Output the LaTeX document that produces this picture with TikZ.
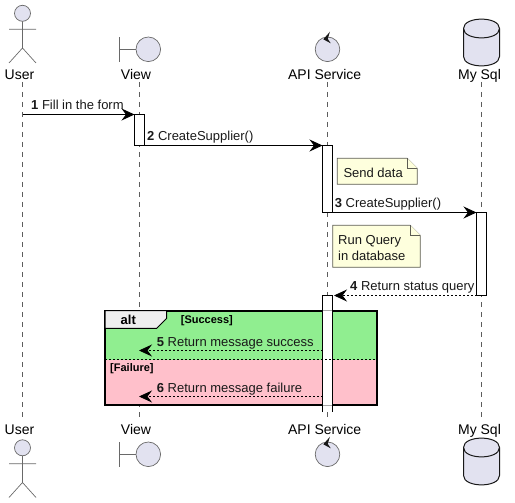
\documentclass[tikz,border=0pt]{standalone}
\usepackage{fontspec}
\setmainfont{Liberation Sans}
\usetikzlibrary{arrows.meta}
\definecolor{iconfill}{RGB}{226,226,240}
\definecolor{inkdark}{RGB}{24,24,24}
\definecolor{notefill}{RGB}{254,255,221}
\definecolor{okgreen}{RGB}{144,238,144}
\definecolor{failpink}{RGB}{255,192,203}
\definecolor{tabgray}{RGB}{238,238,238}
\tikzset{
  lifeline/.style={inkdark!70,line width=0.6pt,dash pattern=on 5pt off 5pt},
  icon/.style={draw=inkdark!65,line width=0.7pt,fill=iconfill},
  actorline/.style={inkdark!65,line width=0.7pt},
  bar/.style={draw=black,fill=white,line width=1pt,minimum width=10pt,inner sep=0pt,outer sep=0pt},
  title/.style={font=\fontsize{14}{16}\selectfont,inner sep=0pt,anchor=base},
  msglabel/.style={font=\fontsize{13}{15}\selectfont,inner sep=0pt,anchor=base west,text=black!90},
  guard/.style={font=\fontsize{11}{13}\selectfont\bfseries,inner sep=0pt,anchor=base west},
  msg/.style={black,line width=1pt,-{Stealth[length=13pt,width=12pt,inset=4.5pt]}},
  reply/.style={msg,dash pattern=on 2pt off 2pt,line width=0.8pt},
  note/.style={draw=inkdark!70!notefill,fill=notefill,line width=0.7pt}
}
\begin{document}
\begin{tikzpicture}[x=1pt,y=-1pt]
\useasboundingbox (0,0) rectangle (515,503);
% lifelines
\foreach \name/\x in {user/22.5,view/139,api/327.5,sql/481.5}{
  \coordinate (\name top) at (\x,82);
  \coordinate (\name bot) at (\x,417);
  \draw [lifeline] (\name top)--(\name bot);
}
% alt frame
\fill [okgreen] (105,310.7) rectangle (376.7,359.5);
\fill [failpink] (105,359.5) rectangle (376.7,405);
\draw [black,line width=1.6pt] (105,310.7) rectangle (376.7,405);
% activations
\node [bar,minimum height=31pt,anchor=north west] (viewbar) at (134.5,114.5) {};
\node [bar,minimum height=67pt,anchor=north west] (apibarone) at (322.5,145.5) {};
\node [bar,minimum height=83pt,anchor=north west] (sqlbar) at (476.5,212.5) {};
\fill [white] (322.5,295.5) rectangle (332.5,412);
\coordinate (apibartwo) at (322.5,295.5);
\coordinate (apibarend) at (332.5,295.5);
\draw [black,line width=1pt] (322.5,412)--(apibartwo)--(apibarend)--(332.5,412);
\draw [gray!70,line width=0.8pt] (323,310.7)--(332,310.7) (323,405)--(332,405);
\draw [black,line width=0.7pt,dash pattern=on 2pt off 2pt] (105,359.5)--(376.7,359.5);
\draw [black,line width=1pt,fill=tabgray] (105,310.7)--(166.7,310.7)--(166.7,318.3)--(156.7,328.3)--(105,328.3)--cycle;
\node [font=\fontsize{13}{15}\selectfont\bfseries,inner sep=0pt,anchor=base] (altlabel) at (128.3,324.3) {alt};
\node [guard] (success) at (180.7,323.3) {[Success]};
\node [guard] (failure) at (110,371) {[Failure]};
% actor, top and bottom
\foreach \dy in {0,434.5}{
  \begin{scope}[yshift=-\dy pt]
  \draw [icon] (22.5,13.3) circle (8);
  \draw [actorline] (22.5,21.3)--(22.5,48) (9,29.3)--(36,29.3) (9,63)--(22.5,48)--(36,63);
  \end{scope}
}
% boundary and control
\foreach \dy in {0,405}{
  \begin{scope}[yshift=-\dy pt]
  \draw [actorline] (119.3,37.3)--(119.3,61.7) (119.3,49.3)--(136,49.3);
  \draw [icon] (148.3,49.3) circle (12.3);
  \draw [icon] (327.5,49.3) circle (12.3);
  \fill [inkdark] (330,31.7)--(323.3,39.3)--(330.7,43.3)--(327.7,38.7)--cycle;
  \end{scope}
}
% database
\foreach \dy in {0,419}{
  \begin{scope}[yshift=-\dy pt]
  \draw [inkdark,line width=1pt,fill=iconfill] (463.5,28.5)
    .. controls (463.5,16) and (499.5,16) .. (499.5,28.5)--(499.5,56.5)
    .. controls (499.5,69) and (463.5,69) .. (463.5,56.5)--cycle;
  \draw [inkdark,line width=1pt] (463.5,28.5) .. controls (463.5,41) and (499.5,41) .. (499.5,28.5);
  \end{scope}
}
% names
\foreach \name/\lab/\x in {user/User/19.5,view/View/136,api/API Service/324.7,sql/My Sql/479.5}{
  \node [title] (\name head) at (\x,79.3) {\lab};
  \node [title] (\name foot) at (\x,434.7) {\lab};
}
% messages
\coordinate (fourend) at (334,295.5);
\coordinate (fivefrom) at (322.5,350.5);
\coordinate (sixfrom) at (322.5,396.5);
\draw [msg] (usertop |- viewbar.north)--(viewbar.north west);
\draw [msg] (viewbar.south east)--(apibarone.north west);
\draw [msg] (apibarone.south east)--(sqlbar.north west);
\draw [reply] (sqlbar.south west)--(fourend);
\draw [reply] (fivefrom)--(viewtop |- fivefrom);
\draw [reply] (sixfrom)--(viewtop |- sixfrom);
\node [msglabel] (msgone) at (31,109.7) {\textbf{1} Fill in the form};
\node [msglabel] (msgtwo) at (147,140.5) {\textbf{2} CreateSupplier()};
\node [msglabel] (msgthree) at (334.7,207.2) {\textbf{3} CreateSupplier()};
\node [msglabel] (msgfour) at (350,290.7) {\textbf{4} Return status query};
\node [msglabel] (msgfive) at (156.7,346.4) {\textbf{5} Return message success};
\node [msglabel] (msgsix) at (156.7,392.4) {\textbf{6} Return message failure};
% notes
\draw [note] (337.3,158.3)--(407.3,158.3)--(417.3,168.3)--(417.3,184.3)--(337.3,184.3)--cycle;
\draw [note] (407.3,158.3)--(407.3,168.3)--(417.3,168.3);
\node [msglabel] (notesend) at (343.3,177.4) {Send data};
\draw [note] (332.7,225.3)--(410.3,225.3)--(420.3,235.3)--(420.3,267.3)--(332.7,267.3)--cycle;
\draw [note] (410.3,225.3)--(410.3,235.3)--(420.3,235.3);
\node [msglabel] (noterunone) at (338,244.7) {Run Query};
\node [msglabel] (noteruntwo) at (338,260.7) {in database};
\end{tikzpicture}
\end{document}
